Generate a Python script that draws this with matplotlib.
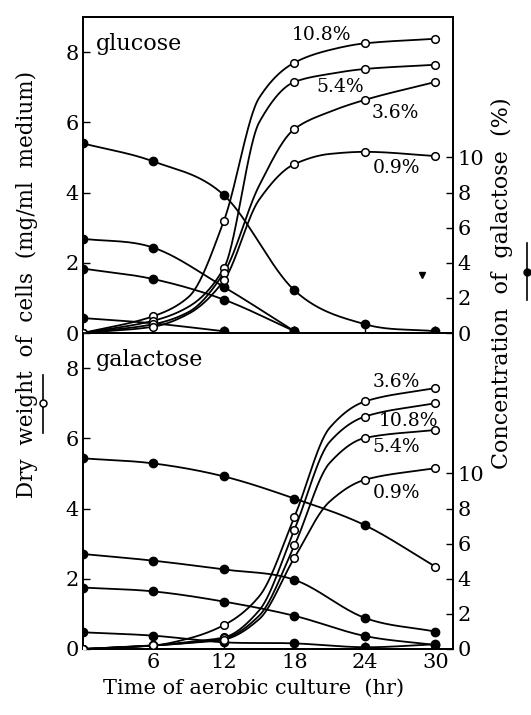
import numpy as np
import matplotlib
matplotlib.use("Agg")
import matplotlib.pyplot as plt
from matplotlib.lines import Line2D

plt.rcParams['font.family'] = ['DejaVu Serif']

# ---------------- data ----------------
hours = [0, 6, 12, 18, 24, 30]
guide_hours = [9, 15, 21]          # extra points
series_labels = ['10.8%', '5.4%', '3.6%', '0.9%']

# glucose panel: dry weight of cells (mg/ml)
glc_dw_108 = [0.0, 0.48, 3.2, 7.7, 8.25, 8.38]
glc_dw_54 = [0.0, 0.35, 1.85, 7.15, 7.52, 7.64]
glc_dw_36 = [0.0, 0.25, 1.72, 5.81, 6.64, 7.15]
glc_dw_09 = [0.0, 0.18, 1.5, 4.81, 5.16, 5.04]
glc_dw_108_g = [1.03, 6.7, 8.06]
glc_dw_54_g = [0.75, 6.0, 7.38]
glc_dw_36_g = [0.6, 4.2, 6.3]
glc_dw_09_g = [0.55, 3.8, 5.1]

# glucose panel: concentration of galactose (%)
glc_c_108 = [10.8, 9.77, 7.85, 2.43, 0.5, 0.1]
glc_c_54_t = [0, 6, 12, 18]
glc_c_54 = [5.37, 4.86, 2.62, 0.1]
glc_c_36_t = [0, 6, 12, 18]
glc_c_36 = [3.67, 3.07, 1.9, 0.1]
glc_c_09_t = [0, 6, 12]
glc_c_09 = [0.85, 0.55, 0.1]
glc_stray_t = [28.9]
glc_stray_c = [3.3]

# galactose panel: dry weight of cells (mg/ml)
gal_dw_36 = [0.0, 0.1, 0.68, 3.76, 7.05, 7.43]
gal_dw_108 = [0.0, 0.1, 0.33, 3.4, 6.62, 7.0]
gal_dw_54 = [0.0, 0.1, 0.3, 2.95, 6.01, 6.24]
gal_dw_09 = [0.0, 0.1, 0.27, 2.6, 4.82, 5.15]
gal_dw_36_g = [0.3, 1.5, 6.3]
gal_dw_108_g = [0.2, 1.1, 5.9]
gal_dw_54_g = [0.18, 0.95, 5.3]
gal_dw_09_g = [0.17, 0.85, 4.2]

# galactose panel: concentration of galactose (%)
gal_c_108 = [10.86, 10.57, 9.83, 8.57, 7.05, 4.69]
gal_c_54 = [5.41, 5.03, 4.53, 3.94, 1.77, 0.99]
gal_c_36 = [3.5, 3.28, 2.7, 1.89, 0.74, 0.23]
gal_c_09 = [0.95, 0.76, 0.38, 0.32, 0.1, 0.27]

# label positions (hr, mg/ml)
glc_lab_x = [20.3, 21.9, 26.6, 26.7]
glc_lab_y = [8.5, 7.0, 6.27, 4.7]
gal_lab_x = [27.7, 26.7, 26.7, 26.7]
gal_lab_y = [6.5, 5.75, 7.6, 4.44]

left_ticks = [0, 2, 4, 6, 8]
right_ticks = [0, 2, 4, 6, 8, 10]
x_ticks = [6, 12, 18, 24, 30]


# ---------------- helpers ----------------
def monotone(x, y, n=300):
    x = np.asarray(x, float)
    y = np.asarray(y, float)
    h = np.diff(x)
    d = np.diff(y) / h
    m = np.zeros_like(y)
    m[0] = d[0]
    m[-1] = d[-1]
    for k in range(1, len(x) - 1):
        if d[k - 1] * d[k] <= 0:
            m[k] = 0.0
        else:
            w1 = 2 * h[k] + h[k - 1]
            w2 = h[k] + 2 * h[k - 1]
            m[k] = (w1 + w2) / (w1 / d[k - 1] + w2 / d[k])
    return hermite(x, y, m, n)


def catmull(x, y, n=300):
    x = np.asarray(x, float)
    y = np.asarray(y, float)
    m = np.zeros_like(y)
    if len(x) == 2:
        m[:] = (y[1] - y[0]) / (x[1] - x[0])
    else:
        m[1:-1] = (y[2:] - y[:-2]) / (x[2:] - x[:-2])
        m[0] = (y[1] - y[0]) / (x[1] - x[0])
        m[-1] = (y[-1] - y[-2]) / (x[-1] - x[-2])
    return hermite(x, y, m, n)


def hermite(x, y, m, n):
    h = np.diff(x)
    xs = np.linspace(x[0], x[-1], n)
    idx = np.clip(np.searchsorted(x, xs) - 1, 0, len(x) - 2)
    hh = h[idx]
    t = (xs - x[idx]) / hh
    h00 = 2 * t**3 - 3 * t**2 + 1
    h10 = t**3 - 2 * t**2 + t
    h01 = -2 * t**3 + 3 * t**2
    h11 = t**3 - t**2
    ys = h00 * y[idx] + h10 * hh * m[idx] + h01 * y[idx + 1] + h11 * hh * m[idx + 1]
    return xs, ys


LW = 1.3


def open_series(ax, t, v, gt, gv):
    kt = list(t) + list(gt)
    kv = list(v) + list(gv)
    order = np.argsort(kt)
    xs, ys = monotone(np.array(kt)[order], np.array(kv)[order])
    ax.plot(xs, ys, color='black', lw=LW, zorder=3)
    ax.plot(t, v, 'o', mfc='white', mec='black', ms=5.5, mew=1.1, zorder=5)


def filled_series(ax, t, v, open_last=False):
    xs, ys = catmull(t, v)
    ax.plot(xs, ys, color='black', lw=LW, zorder=3)
    if open_last:
        ax.plot(t[:-1], v[:-1], 'o', color='black', ms=6, zorder=4)
        ax.plot(t[-1:], v[-1:], 'o', mfc='white', mec='black', ms=5.5, mew=1.1, zorder=5)
    else:
        ax.plot(t, v, 'o', color='black', ms=6, zorder=4)


# ---------------- figure ----------------
W, H = 531, 715
fig = plt.figure(figsize=(W / 100, H / 100), dpi=100)
L, R = 83 / W, 453 / W
axes = []
for top, bot in [(17, 333), (333, 649)]:
    ax = fig.add_axes([L, 1 - bot / H, R - L, (bot - top) / H])
    axr = ax.twinx()
    ax.set_zorder(axr.get_zorder() + 1)
    ax.patch.set_visible(False)
    ax.set_xlim(0, 31.5)
    ax.set_ylim(0, 9)
    axr.set_ylim(0, 18)
    ax.set_yticks(left_ticks)
    axr.set_yticks(right_ticks)
    ax.set_xticks(x_ticks)
    ax.tick_params(axis='both', direction='in', length=5, width=1, labelsize=15, pad=3)
    axr.tick_params(axis='y', direction='in', length=5, width=1, labelsize=15, pad=3)
    for a in (ax, axr):
        for s in a.spines.values():
            s.set_linewidth(1.3)
    axes.append((ax, axr))

(ax1, ax1r), (ax2, ax2r) = axes
ax1.tick_params(axis='x', labelbottom=False)
ax2.set_xticklabels([str(v) for v in x_ticks])

# glucose panel
open_series(ax1, hours, glc_dw_108, guide_hours, glc_dw_108_g)
open_series(ax1, hours, glc_dw_54, guide_hours, glc_dw_54_g)
open_series(ax1, hours, glc_dw_36, guide_hours, glc_dw_36_g)
open_series(ax1, hours, glc_dw_09, guide_hours, glc_dw_09_g)
filled_series(ax1r, hours, glc_c_108)
filled_series(ax1r, glc_c_54_t, glc_c_54)
filled_series(ax1r, glc_c_36_t, glc_c_36)
filled_series(ax1r, glc_c_09_t, glc_c_09)
ax1r.plot(glc_stray_t, glc_stray_c, 'v', color='black', ms=4.5)

# galactose panel
open_series(ax2, hours, gal_dw_36, guide_hours, gal_dw_36_g)
open_series(ax2, hours, gal_dw_108, guide_hours, gal_dw_108_g)
open_series(ax2, hours, gal_dw_54, guide_hours, gal_dw_54_g)
open_series(ax2, hours, gal_dw_09, guide_hours, gal_dw_09_g)
filled_series(ax2r, hours, gal_c_108, open_last=True)
filled_series(ax2r, hours, gal_c_54)
filled_series(ax2r, hours, gal_c_36)
filled_series(ax2r, hours, gal_c_09)

for x, y, s in zip(glc_lab_x, glc_lab_y, series_labels):
    ax1.text(x, y, s, fontsize=13.5, ha='center', va='center', zorder=6)
for x, y, s in zip(gal_lab_x, gal_lab_y, series_labels):
    ax2.text(x, y, s, fontsize=13.5, ha='center', va='center', zorder=6)

ax1.text(0.035, 0.915, 'glucose', transform=ax1.transAxes, fontsize=16, ha='left', va='center')
ax2.text(0.035, 0.915, 'galactose', transform=ax2.transAxes, fontsize=16, ha='left', va='center')

# axis labels
fig.text(254 / W, 1 - 688 / H, 'Time of aerobic culture  (hr)', fontsize=15,
         ha='center', va='center')
fig.text(27 / W, 1 - 284 / H, 'Dry  weight  of  cells  (mg/ml  medium)', fontsize=15.5,
         rotation=90, ha='center', va='center')
fig.text(502 / W, 1 - 283 / H, 'Concentration  of  galactose  (%)', fontsize=16,
         rotation=90, ha='center', va='center')

# symbol keys beside the axis titles
fig.add_artist(Line2D([43 / W, 43 / W], [1 - 375 / H, 1 - 433 / H], color='black', lw=1.2))
fig.add_artist(Line2D([43 / W], [1 - 403 / H], marker='o', mfc='white', mec='black', ms=5, mew=1.1))
fig.add_artist(Line2D([527 / W, 527 / W], [1 - 243 / H, 1 - 300 / H], color='black', lw=1.2))
fig.add_artist(Line2D([527 / W], [1 - 272 / H], marker='o', color='black', ms=5))

fig.savefig('out.png', dpi=100)
